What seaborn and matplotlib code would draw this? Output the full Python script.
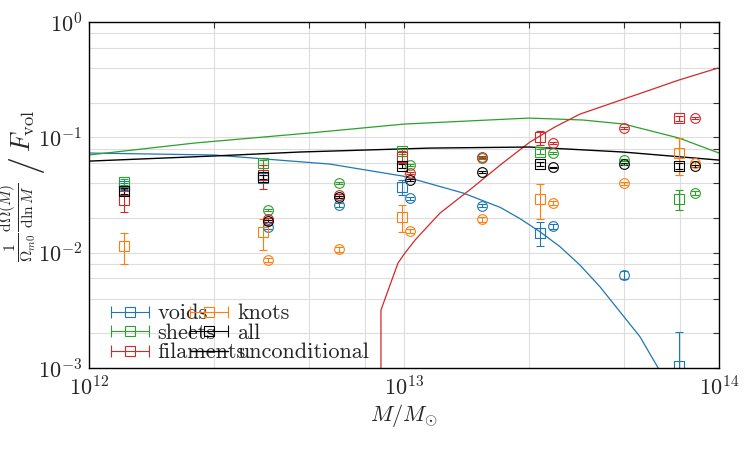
import numpy as np
import pandas as pd
import matplotlib
matplotlib.use("Agg")
import matplotlib.pyplot as plt
import seaborn as sns
from matplotlib.ticker import FixedLocator, NullFormatter, LogFormatterSciNotation
from matplotlib.lines import Line2D
from matplotlib.legend_handler import HandlerLine2D, HandlerTuple

# ---------------- data ----------------
envs = ["voids", "sheets", "filaments", "knots", "all"]
env_colors = ["#1f77b4", "#2ca02c", "#d62728", "#ff7f0e", "black"]

# measurements shown as squares (with error bars)
mass_sq = [1.29e12, 3.57e12, 9.86e12, 2.70e13, 7.46e13]
sq_voids = [0.0378, 0.0440, 0.0374, 0.0149, 0.00104]
sq_voids_err = [0.0020, 0.0030, 0.0055, 0.0035, 0.0010]
sq_sheets = [0.0410, 0.0600, 0.0760, 0.0750, 0.0290]
sq_sheets_err = [0.0025, 0.0030, 0.0040, 0.0040, 0.0056]
sq_filaments = [0.0286, 0.0467, 0.0675, 0.1000, 0.1460]
sq_filaments_err = [0.0060, 0.0110, 0.0080, 0.0140, 0.0080]
sq_knots = [0.0114, 0.0150, 0.0205, 0.0292, 0.0736]
sq_knots_err = [0.0034, 0.0044, 0.0055, 0.0098, 0.0260]
sq_all = [0.0342, 0.0455, 0.0564, 0.0587, 0.0564]
sq_all_err = [0.0020, 0.0020, 0.0020, 0.0020, 0.0030]

# measurements shown as circles (small error bars)
mass_ci = [3.70e12, 6.22e12, 1.045e13, 1.77e13, 2.97e13, 4.99e13, 8.39e13]
ci_voids = [0.0167, 0.0259, 0.0296, 0.0256, 0.0170, 0.0064, np.nan]
ci_voids_err = [0.0006, 0.0008, 0.0009, 0.0009, 0.0008, 0.0005, np.nan]
ci_sheets = [0.0234, 0.0399, 0.0575, 0.0660, 0.0727, 0.0636, 0.0331]
ci_sheets_err = [0.0005, 0.0008, 0.0010, 0.0012, 0.0014, 0.0015, 0.0012]
ci_filaments = [0.0196, 0.0316, 0.0490, 0.0675, 0.0898, 0.1197, 0.1460]
ci_filaments_err = [0.0005, 0.0007, 0.0009, 0.0012, 0.0016, 0.0022, 0.0030]
ci_knots = [0.00863, 0.0107, 0.0155, 0.0194, 0.0268, 0.0399, 0.0602]
ci_knots_err = [0.0004, 0.0005, 0.0007, 0.0008, 0.0011, 0.0015, 0.0022]
ci_all = [0.0188, 0.0302, 0.0426, 0.0500, 0.0549, 0.0586, 0.0564]
ci_all_err = [0.0003, 0.0005, 0.0006, 0.0007, 0.0008, 0.0009, 0.0010]

# model curves
curve_voids_M = [1.0e12, 2.49e12, 5.82e12, 9.93e12, 1.54e13, 2.02e13, 2.33e13, 2.70e13,
                 3.13e13, 3.62e13, 4.19e13, 4.85e13, 5.61e13, 6.41e13, 7.5e13]
curve_voids = [0.0731, 0.0703, 0.0586, 0.0461, 0.0329, 0.0247, 0.0198, 0.0152,
               0.01125, 0.0078, 0.00506, 0.00307, 0.00187, 0.0010, 0.00045]
curve_sheets_M = [1.0e12, 2.17e12, 4.99e12, 1.0e13, 2.49e13, 3.70e13, 4.99e13, 7.46e13, 1.0e14]
curve_sheets = [0.0703, 0.0893, 0.1089, 0.1303, 0.1469, 0.1413, 0.1303, 0.0986, 0.0731]
curve_filaments_M = [8.44e12, 8.45e12, 9.57e12, 1.007e13, 1.084e13, 1.30e13, 1.66e13,
                     2.02e13, 2.51e13, 3.01e13, 3.62e13, 4.99e13, 6.04e13, 7.46e13, 9.93e13]
curve_filaments = [1e-6, 0.00318, 0.00813, 0.00993, 0.01285, 0.0220, 0.0371,
                   0.0575, 0.0910, 0.1228, 0.159, 0.215, 0.257, 0.314, 0.399]
curve_all_M = [1.0e12, 2.49e12, 4.68e12, 1.21e13, 2.51e13, 4.95e13, 1.0e14]
curve_all = [0.0622, 0.0689, 0.0746, 0.0807, 0.0824, 0.0746, 0.0635]

xtick_major = [1e12, 1e13, 1e14]
ytick_major = [1e-3, 1e-2, 1e-1, 1e0]

# ---------------- style ----------------
sns.set_style("white")
plt.rcParams["font.family"] = ["cmr10", "DejaVu Serif"]
plt.rcParams["mathtext.fontset"] = "cm"
plt.rcParams["axes.formatter.use_mathtext"] = True
plt.rcParams["axes.unicode_minus"] = False
FS = 16

W, H = 750, 450
fig = plt.figure(figsize=(7.5, 4.5), dpi=100)
ax = fig.add_axes([89 / W, 1 - 368 / H, 630 / W, 346 / H])
ax.set_xscale("log")
ax.set_yscale("log")

# curves
curves = [(curve_voids_M, curve_voids, env_colors[0]),
          (curve_sheets_M, curve_sheets, env_colors[1]),
          (curve_filaments_M, curve_filaments, env_colors[2])]
for M, v, c in curves:
    sns.lineplot(x=M, y=v, ax=ax, color=c, lw=0.9, sort=False, estimator=None)
sns.lineplot(x=curve_all_M, y=curve_all, ax=ax, color="black", lw=1.0,
             sort=False, estimator=None)

sq_vals = [sq_voids, sq_sheets, sq_filaments, sq_knots, sq_all]
sq_errs = [sq_voids_err, sq_sheets_err, sq_filaments_err, sq_knots_err, sq_all_err]
ci_vals = [ci_voids, ci_sheets, ci_filaments, ci_knots, ci_all]
ci_errs = [ci_voids_err, ci_sheets_err, ci_filaments_err, ci_knots_err, ci_all_err]

ekw = dict(linestyle="none", mfc="none", markersize=7, mew=0.8,
           elinewidth=0.8, capsize=3, capthick=0.8)
for v, e, c in zip(ci_vals, ci_errs, env_colors):
    ax.errorbar(mass_ci, v, yerr=e, fmt="o", color=c, **ekw)
for v, e, c in zip(sq_vals, sq_errs, env_colors):
    ax.errorbar(mass_sq, v, yerr=e, fmt="s", color=c, **ekw)

ax.set_xlim(1e12, 1e14)
ax.set_ylim(1e-3, 1e0)

# ticks / grid
ax.xaxis.set_major_locator(FixedLocator(xtick_major))
ax.xaxis.set_minor_locator(FixedLocator([m * d for d in [1e12, 1e13] for m in (2.5, 5, 7.5)]))
ax.yaxis.set_major_locator(FixedLocator(ytick_major))
ax.yaxis.set_minor_locator(FixedLocator([m * d for d in [1e-3, 1e-2, 1e-1] for m in (2, 4, 6, 8)]))
ax.xaxis.set_major_formatter(LogFormatterSciNotation())
ax.yaxis.set_major_formatter(LogFormatterSciNotation())
ax.xaxis.set_minor_formatter(NullFormatter())
ax.yaxis.set_minor_formatter(NullFormatter())
ax.tick_params(which="both", direction="in", top=True, right=True,
               length=4, width=0.8, color="#333333", labelsize=FS, pad=5)
ax.grid(True, which="both", color="#dddddd", lw=0.8)
ax.set_axisbelow(True)
for s in ax.spines.values():
    s.set_color("black")
    s.set_linewidth(1.0)

ax.set_xlabel(r"$M/M_{\odot}$", fontsize=FS, labelpad=2)

# y label: fraction part + large slash + F_vol
ax.set_ylabel(r"$\frac{1}{\Omega_{m0}}\frac{\mathrm{d}\Omega(M)}{\mathrm{d}\ln M}$", fontsize=16)
ax.yaxis.label.set_rotation(90)
ax.yaxis.label.set_ha("center")
ax.yaxis.label.set_va("center")
ax.yaxis.set_label_coords(18 / W, 1 - 222 / H, transform=fig.transFigure)
fig.text(27 / W, 1 - 166 / H, r"$/$", rotation=90, ha="center", va="center", fontsize=26)
fig.text(23 / W, 1 - 131 / H, r"$F_\mathrm{vol}$", rotation=90, ha="center", va="center", fontsize=19)

# legend
handles, hmap = [], {}
for c in env_colors:
    caps = Line2D([], [], color=c, lw=0.8, marker="|", markersize=8, mew=0.8)
    sq = Line2D([], [], color=c, ls="none", marker="s", mfc="none", markersize=7, mew=0.8)
    hmap[caps] = HandlerLine2D(numpoints=2, marker_pad=0)
    handles.append((caps, sq))
uncond = Line2D([], [], color="black", lw=1.0)
handles.append(uncond)
hmap[tuple] = HandlerTuple(ndivide=1, pad=0)
labels = ["voids", "sheets", "filaments", "knots", "all", "unconditional"]
leg = ax.legend(handles, labels, handler_map=hmap, ncol=2, loc="lower left",
                bbox_to_anchor=(0.035, 0.016), frameon=False, fontsize=FS,
                borderpad=0, borderaxespad=0, handlelength=1.7, handletextpad=0.4,
                columnspacing=-2.5, labelspacing=0.0)

fig.savefig("out.png", dpi=100)
